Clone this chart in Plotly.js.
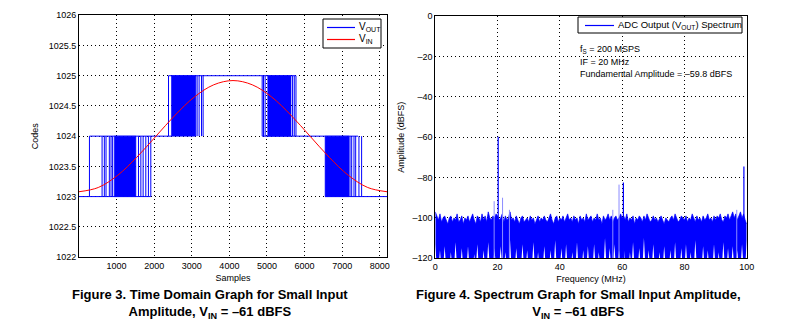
<!DOCTYPE html>
<html><head><meta charset="utf-8">
<script src="https://cdn.plot.ly/plotly-3.0.1.min.js"></script>
<style>html,body{margin:0;padding:0;background:#fff}#chart{width:807px;height:329px}</style>
</head><body><div id="chart"></div>
<script>
// ---------- Figure 3: time domain ----------
const sampleTicks = [1000,2000,3000,4000,5000,6000,7000,8000];
const codeTicks = [1022,1022.5,1023,1023.5,1024,1024.5,1025,1025.5,1026];

// V_IN (red sine)
const vinSamples = [0,512,1024,1536,2048,2560,3072,3584,4096,4608,5120,5632,6144,6656,7168,7680,8192];
const vinCodes = [1023.08,1023.15,1023.35,1023.65,1024.00,1024.35,1024.65,1024.85,1024.92,1024.85,1024.65,1024.35,1024.00,1023.65,1023.35,1023.15,1023.08];

// V_OUT: steady output levels
const levelStart = [0, 278, 2381, 4872, 6546];
const levelEnd   = [1910, 2460, 5771, 7420, 8192];
const levelCode  = [1023, 1024, 1025, 1024, 1023];

// V_OUT: dense toggling bursts
const burstStart = [939, 2460, 5020, 6546];
const burstEnd   = [1513, 3108, 5639, 7181];
const burstLow   = [1023, 1024, 1024, 1023];
const burstHigh  = [1024, 1025, 1025, 1024];

// V_OUT: isolated toggles between two codes
const toggleSample = [278,614,674,719,807,852,894,1582,1645,1706,1777,1846,1910,
                      2381,3142,3195,3259,3301,
                      4872,4907,4951,5681,5726,5771,
                      7208,7253,7314,7359,7446,7517];
const toggleLow = [1023,1023,1023,1023,1023,1023,1023,1023,1023,1023,1023,1023,1023,
                   1024,1024,1024,1024,1024,
                   1024,1024,1024,1024,1024,1024,
                   1023,1023,1023,1023,1023,1023];

// ---------- Figure 4: spectrum ----------
const freqTicks = [0,20,40,60,80,100];
const dbTicks = [-120,-100,-80,-60,-40,-20,0];
const dbTickText = ['\u2013120','\u2013100','\u201380','\u201360','\u201340','\u201320','0'];
const noiseStepMHz = 0.5;
const noiseTop = [
-97,-99,-101,-98,-102,-100,-99,-101,-103,-100,
-99,-102,-100,-101,-98,-102,-101,-99,-103,-100,
-101,-99,-102,-100,-98,-101,-103,-99,-100,-102,
-98,-101,-99,-102,-97,-100,-101,-99,-100,-98,
-99,-101,-100,-98,-102,-99,-101,-100,-97,-101,
-100,-102,-99,-101,-103,-100,-99,-102,-101,-100,
-102,-99,-101,-100,-103,-101,-99,-102,-100,-101,
-99,-101,-102,-100,-98,-101,-103,-100,-99,-102,
-100,-101,-99,-102,-100,-98,-101,-100,-102,-99,
-101,-100,-103,-99,-101,-100,-102,-98,-101,-100,
-99,-102,-100,-101,-98,-101,-100,-103,-99,-101,
-100,-98,-101,-99,-102,-100,-99,-101,-100,-98,
-100,-99,-101,-98,-102,-100,-101,-99,-103,-100,
-101,-99,-100,-102,-99,-101,-98,-100,-102,-101,
-99,-101,-100,-102,-100,-99,-101,-103,-100,-101,
-102,-100,-99,-101,-98,-100,-102,-101,-99,-100,
-101,-99,-102,-100,-101,-98,-100,-102,-99,-101,
-100,-102,-99,-101,-100,-98,-101,-100,-102,-99,
-101,-99,-100,-98,-101,-102,-99,-100,-98,-101,
-99,-97,-100,-98,-101,-99,-97,-100,-98,-101,
-103];
const noiseBottom = [
-113,-125,-125,-116,-125,-125,-114,-125,-125,-125,
-117,-125,-125,-112,-125,-125,-125,-115,-125,-125,
-125,-114,-125,-125,-125,-118,-125,-113,-125,-125,
-125,-116,-125,-125,-112,-125,-125,-125,-115,-125,
-125,-125,-114,-125,-125,-117,-125,-125,-111,-125,
-125,-125,-115,-125,-125,-125,-113,-125,-125,-116,
-125,-125,-125,-112,-125,-125,-117,-125,-125,-125,
-114,-125,-125,-125,-116,-125,-125,-111,-125,-125,
-125,-115,-125,-125,-113,-125,-125,-125,-117,-125,
-125,-112,-125,-125,-125,-116,-125,-125,-114,-125,
-125,-125,-113,-125,-125,-117,-125,-125,-125,-110,
-125,-125,-115,-125,-125,-113,-125,-125,-116,-125,
-125,-114,-125,-125,-125,-117,-125,-112,-125,-125,
-125,-115,-125,-125,-110,-125,-125,-116,-125,-125,
-113,-125,-125,-125,-117,-125,-125,-114,-125,-125,
-125,-116,-125,-125,-112,-125,-125,-125,-115,-125,
-125,-113,-125,-125,-117,-125,-125,-111,-125,-125,
-125,-125,-114,-125,-125,-116,-125,-125,-125,-113,
-125,-125,-117,-125,-125,-112,-125,-125,-115,-125,
-125,-114,-125,-125,-116,-125,-125,-113,-125,-125,
-111];
// strong spurs (fundamental, 3rd harmonic, near Nyquist)
const spurFreq  = [20.2, 60.4, 99.1];
const spurLevel = [-59.8, -82.5, -74.5];
// weaker side spurs
const sideFreq  = [18.9, 21.6, 23.8, 57.0, 59.0, 96.8];
const sideLevel = [-91.7, -90, -96, -96, -83.5, -96];

// ---------- build traces ----------
const FONT = 'Liberation Sans, Arial, Helvetica, sans-serif';
const BLUE = '#0000ff';
const RED = '#ff0000';

const bx=[], by=[];
burstStart.forEach((s,i)=>{
  const e=burstEnd[i], lo=burstLow[i], hi=burstHigh[i];
  bx.push(s,e,e,s,s,null); by.push(lo,lo,hi,hi,lo,null);
});
const vx=[], vy=[];
levelStart.forEach((s,i)=>{ vx.push(s, levelEnd[i], null); vy.push(levelCode[i], levelCode[i], null); });
toggleSample.forEach((s,i)=>{ vx.push(s, s, null); vy.push(toggleLow[i], toggleLow[i]+1, null); });

const nf = noiseTop.map((_,i)=>i*noiseStepMHz);
const sfx=[], sfy=[];
spurFreq.forEach((f,i)=>{ sfx.push(f,f,null); sfy.push(-125, spurLevel[i], null); });
const sdx=[], sdy=[];
sideFreq.forEach((f,i)=>{ sdx.push(f,f,null); sdy.push(-125, sideLevel[i], null); });

const traces = [
  {x:bx, y:by, type:'scatter', mode:'lines', fill:'toself', fillcolor:BLUE,
   line:{color:BLUE, width:0.6}, showlegend:false, hoverinfo:'skip', xaxis:'x', yaxis:'y'},
  {x:vx, y:vy, type:'scatter', mode:'lines', name:'V<sub>OUT</sub>', showlegend:false,
   line:{color:BLUE, width:1}, xaxis:'x', yaxis:'y'},
  {x:vinSamples, y:vinCodes, type:'scatter', mode:'lines', name:'V<sub>IN</sub>', showlegend:false,
   line:{color:RED, width:1, shape:'spline'}, xaxis:'x', yaxis:'y'},

  {x:nf, y:noiseBottom, type:'scatter', mode:'lines', line:{color:BLUE, width:0},
   showlegend:false, hoverinfo:'skip', xaxis:'x2', yaxis:'y2'},
  {x:nf, y:noiseTop, type:'scatter', mode:'lines', fill:'tonexty', fillcolor:BLUE,
   line:{color:BLUE, width:0.7}, showlegend:false, xaxis:'x2', yaxis:'y2'},
  {x:sdx, y:sdy, type:'scatter', mode:'lines', line:{color:'#8c8cff', width:1},
   showlegend:false, xaxis:'x2', yaxis:'y2'},
  {x:sfx, y:sfy, type:'scatter', mode:'lines', name:'ADC Output (V<sub>OUT</sub>) Spectrum', showlegend:false,
   line:{color:BLUE, width:1.2}, xaxis:'x2', yaxis:'y2'}
];

const W=807, H=329;
const px = v => v/W, py = v => (H-v)/H;
const axisCommon = {
  showgrid:true, gridcolor:'#000', gridwidth:1, griddash:'1px,3px',
  showline:true, linecolor:'#000', linewidth:1, mirror:true,
  zeroline:false, ticks:'', tickfont:{family:FONT, size:9, color:'#000'},
  fixedrange:true
};

// legend boxes drawn in paper space
const shapes = [
  {type:'rect', xref:'paper', yref:'paper', x0:px(323), x1:px(381), y0:py(48), y1:py(19),
   line:{color:'#000', width:1}, fillcolor:'#fff', layer:'above'},
  {type:'line', xref:'paper', yref:'paper', x0:px(327), x1:px(355), y0:py(27.5), y1:py(27.5),
   line:{color:BLUE, width:1.2}, layer:'above'},
  {type:'line', xref:'paper', yref:'paper', x0:px(327), x1:px(355), y0:py(39.5), y1:py(39.5),
   line:{color:RED, width:1.2}, layer:'above'},
  {type:'rect', xref:'paper', yref:'paper', x0:px(578), x1:px(742), y0:py(33), y1:py(17),
   line:{color:'#000', width:1}, fillcolor:'#fff', layer:'above'},
  {type:'line', xref:'paper', yref:'paper', x0:px(585), x1:px(614), y0:py(25.5), y1:py(25.5),
   line:{color:BLUE, width:1.2}, layer:'above'}
];

function ann(x, y, text, size, anchor, bold){
  return {xref:'paper', yref:'paper', x:px(x), y:py(y), xanchor:anchor||'left', yanchor:'middle',
    showarrow:false, align:'center', text: bold ? '<b>'+text+'</b>' : text, font:{family:FONT, size:size, color:'#000'}};
}

const layout = {
  width:W, height:H, margin:{l:0,r:0,t:0,b:0},
  paper_bgcolor:'#fff', plot_bgcolor:'#fff',
  font:{family:FONT, color:'#000'},
  showlegend:false,
  xaxis: Object.assign({}, axisCommon, {domain:[px(79), px(387)], range:[0,8192],
    tickvals:sampleTicks, title:{text:'Samples', font:{size:9}, standoff:4}, anchor:'y'}),
  yaxis: Object.assign({}, axisCommon, {domain:[py(257), py(15.3)], range:[1022,1026],
    tickvals:codeTicks, ticktext:codeTicks.map(String), title:{text:'Codes', font:{size:9}, standoff:8}, anchor:'x'}),
  xaxis2: Object.assign({}, axisCommon, {domain:[px(435.3), px(746.7)], range:[0,100],
    tickvals:freqTicks, title:{text:'Frequency (MHz)', font:{size:9}, standoff:4}, anchor:'y2'}),
  yaxis2: Object.assign({}, axisCommon, {domain:[py(258.3), py(16)], range:[-120,0],
    tickvals:dbTicks, ticktext:dbTickText, title:{text:'Amplitude (dBFS)', font:{size:9}, standoff:6}, anchor:'x2'}),
  shapes: shapes,
  annotations: [
    ann(357, 27.5, 'V<sub>OUT</sub>', 10),
    ann(357, 39.5, 'V<sub>IN</sub>', 10),
    ann(616, 25, 'ADC Output (V<sub>OUT</sub>) Spectrum', 9.5),
    ann(578, 49, 'f<sub>S</sub> = 200 MSPS', 9),
    ann(578, 62, 'IF = 20 MHz', 9),
    ann(578, 74, 'Fundamental Amplitude = \u201359.8 dBFS', 9),
    ann(210, 304, 'Figure 3. Time Domain Graph for Small Input<br>Amplitude, V<sub>IN</sub> = \u201361 dBFS', 13, 'center', true),
    ann(578, 304, 'Figure 4. Spectrum Graph for Small Input Amplitude,<br>V<sub>IN</sub> = \u201361 dBFS', 13, 'center', true)
  ]
};

Plotly.newPlot('chart', traces, layout, {staticPlot:true, displayModeBar:false});
</script></body></html>
